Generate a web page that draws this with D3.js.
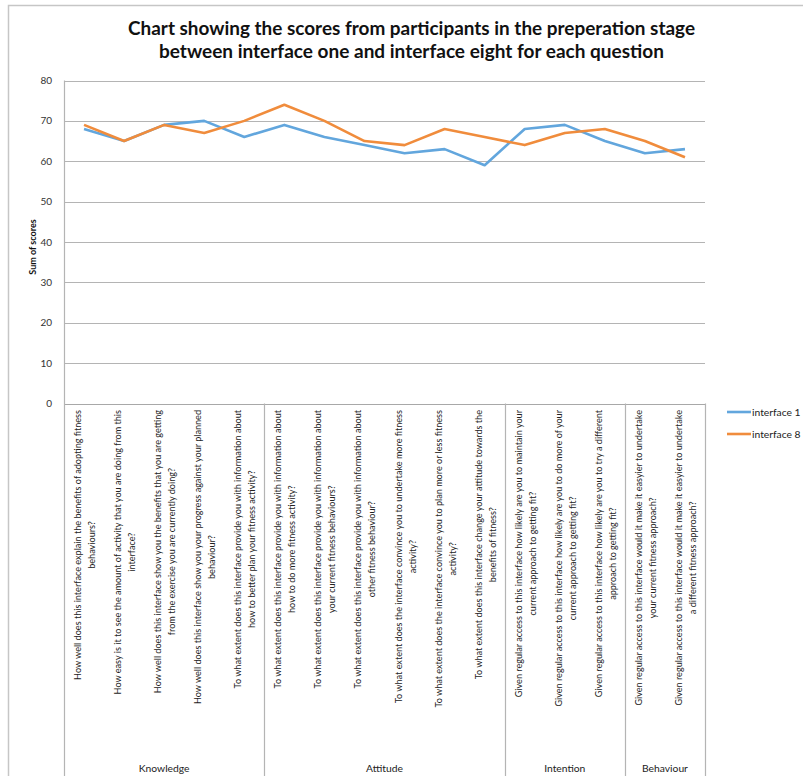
<!DOCTYPE html>
<html>
<head>
<meta charset="utf-8">
<script src="https://cdn.jsdelivr.net/npm/d3@7"></script>
<style>
  body { margin: 0; background: #fff; }
  svg { display: block; font-family: Lato, "Open Sans", sans-serif; }
</style>
</head>
<body>
<div class="vis-linechart"></div>
<script>
const titleLines = [
  "Chart showing the scores from participants in the preperation stage",
  "between interface one and interface eight for each question"
]

const groups = ["Knowledge", "Attitude", "Intention", "Behaviour"]
const groupSizes = [5, 6, 3, 2]

const questions = [
  ["How well does this interface explain the benefits of adopting fitness", "behaviours?"],
  ["How easy is it to see the amount of activity that you are doing from this", "interface?"],
  ["How well does this interface show you the benefits that you are getting", "from the exercise you are currently doing?"],
  ["How well does this interface show you your progress against your planned", "behaviour?"],
  ["To what extent does this interface provide you with information about", "how to better plan your fitness activity?"],
  ["To what extent does this interface provide you with information about", "how to do more fitness activity?"],
  ["To what extent does this interface provide you with information about", "your current fitness behaviours?"],
  ["To what extent does this interface provide you with information about", "other fitness behaviour?"],
  ["To what extent does the interface convince you to undertake more fitness", "activity?"],
  ["To what extent does the interface convince you to plan more or less fitness", "activity?"],
  ["To what extent does this interface change your attitude towards the", "benefits of fitness?"],
  ["Given regular access to this interface how likely are you to maintain your", "current approach to getting fit?"],
  ["Given regular access to this interface how likely are you to do more of your", "current approach to getting fit?"],
  ["Given regular access to this interface how likely are you to try a different", "approach to getting fit?"],
  ["Given regular access to this interface would it make it easyier to undertake", "your current fitness approach?"],
  ["Given regular access to this interface would it make it easyier to undertake", "a different fitness approach?"]
]

const interface1 = [68, 65, 69, 70, 66, 69, 66, 64, 62, 63, 59, 68, 69, 65, 62, 63]
const interface8 = [69, 65, 69, 67, 70, 74, 70, 65, 64, 68, 66, 64, 67, 68, 65, 61]

const seriesNames = ["interface 1", "interface 8"]
const seriesColors = ["#62a6dd", "#f08c3c"]

const yTicks = [0, 10, 20, 30, 40, 50, 60, 70, 80]

const width = 803
const height = 776
const plot = { left: 64, right: 705, top: 80.5, bottom: 403.5 }

const svg = d3.select('.vis-linechart')
  .append('svg')
  .attr('width', width)
  .attr('height', height)

// outer frame (only top and left visible)
svg.append('path')
  .attr('d', `M8.5,${height} V5.5 H${width}`)
  .attr('fill', 'none')
  .attr('stroke', '#c6c6c6')
  .attr('stroke-width', 1.5)

const x = d3.scalePoint()
  .domain(d3.range(questions.length))
  .range([plot.left, plot.right])
  .padding(0.5)

const y = d3.scaleLinear()
  .domain([0, 80])
  .range([plot.bottom, plot.top])

// title, stretched to the reference widths
const titleWidths = [567, 505]
titleLines.forEach((t, i) => {
  svg.append('text')
    .attr('x', 411.5)
    .attr('y', 35 + i * 23)
    .attr('text-anchor', 'middle')
    .attr('font-weight', 'bold')
    .attr('font-size', 18)
    .attr('fill', '#111')
    .attr('textLength', titleWidths[i])
    .attr('lengthAdjust', 'spacingAndGlyphs')
    .text(t)
})

// gridlines
svg.append('g')
  .selectAll('line')
  .data(yTicks)
  .enter()
  .append('line')
  .attr('x1', plot.left)
  .attr('x2', plot.right)
  .attr('y1', d => Math.round(y(d)) + 0.5)
  .attr('y2', d => Math.round(y(d)) + 0.5)
  .attr('stroke', d => d === 0 ? '#a8a8a8' : '#b4b4b4')
  .attr('stroke-width', 1)

// y tick labels
svg.append('g')
  .selectAll('text')
  .data(yTicks)
  .enter()
  .append('text')
  .attr('x', 52)
  .attr('y', d => y(d) + 3.5)
  .attr('text-anchor', 'end')
  .attr('font-size', 10)
  .attr('fill', '#333')
  .text(d => d)

svg.append('text')
  .attr('transform', 'translate(36,247) rotate(-90)')
  .attr('text-anchor', 'middle')
  .attr('font-size', 9)
  .attr('font-weight', 'bold')
  .attr('fill', '#111')
  .text('Sum of scores')

// group separators of the category table
const step = x.step()
const bounds = [0]
groupSizes.forEach(n => bounds.push(bounds[bounds.length - 1] + n))
svg.append('g')
  .selectAll('line')
  .data(bounds)
  .enter()
  .append('line')
  .attr('x1', d => Math.round(plot.left + d * step) + 0.5)
  .attr('x2', d => Math.round(plot.left + d * step) + 0.5)
  .attr('y1', (d, i) => i === 0 ? plot.top : plot.bottom)
  .attr('y2', height)
  .attr('stroke', '#b4b4b4')
  .attr('stroke-width', 1.2)

svg.append('g')
  .selectAll('text')
  .data(groups)
  .enter()
  .append('text')
  .attr('x', (d, i) => plot.left + (bounds[i] + bounds[i + 1]) / 2 * step)
  .attr('y', 772)
  .attr('text-anchor', 'middle')
  .attr('font-size', 10.3)
  .attr('fill', '#222')
  .text(d => d)

// rotated question labels
const labelSize = 9.1
const labels = svg.append('g')
  .selectAll('g')
  .data(questions)
  .enter()
  .append('g')

labels.each(function (lines, i) {
  const g = d3.select(this)
  const texts = lines.map((t, j) => g.append('text')
    .attr('font-size', labelSize)
    .attr('fill', '#222')
    .attr('text-anchor', 'middle')
    .text(t))
  const maxW = d3.max(texts, t => t.node().getComputedTextLength())
  const cy = 410 + maxW / 2
  texts.forEach((t, j) => {
    const cx = x(i) + (j - (lines.length - 1) / 2) * 14 + 4
    t.attr('transform', `translate(${cx},${cy}) rotate(-90)`)
  })
})

// series lines
const line = d3.line()
  .x((d, i) => x(i))
  .y(d => y(d))

const series = [interface1, interface8]
svg.append('g')
  .selectAll('path')
  .data(series)
  .enter()
  .append('path')
  .attr('d', line)
  .attr('fill', 'none')
  .attr('stroke', (d, i) => seriesColors[i])
  .attr('stroke-width', 2.6)
  .attr('stroke-linejoin', 'round')

// legend
const legend = svg.append('g')
  .selectAll('g')
  .data(seriesNames)
  .enter()
  .append('g')
  .attr('transform', (d, i) => `translate(727,${412 + i * 22})`)

legend.append('line')
  .attr('x1', 0)
  .attr('x2', 24)
  .attr('stroke', (d, i) => seriesColors[i])
  .attr('stroke-width', 2.6)

legend.append('text')
  .attr('x', 25)
  .attr('y', 3.5)
  .attr('font-size', 10.3)
  .attr('fill', '#222')
  .text(d => d)
</script>
</body>
</html>
